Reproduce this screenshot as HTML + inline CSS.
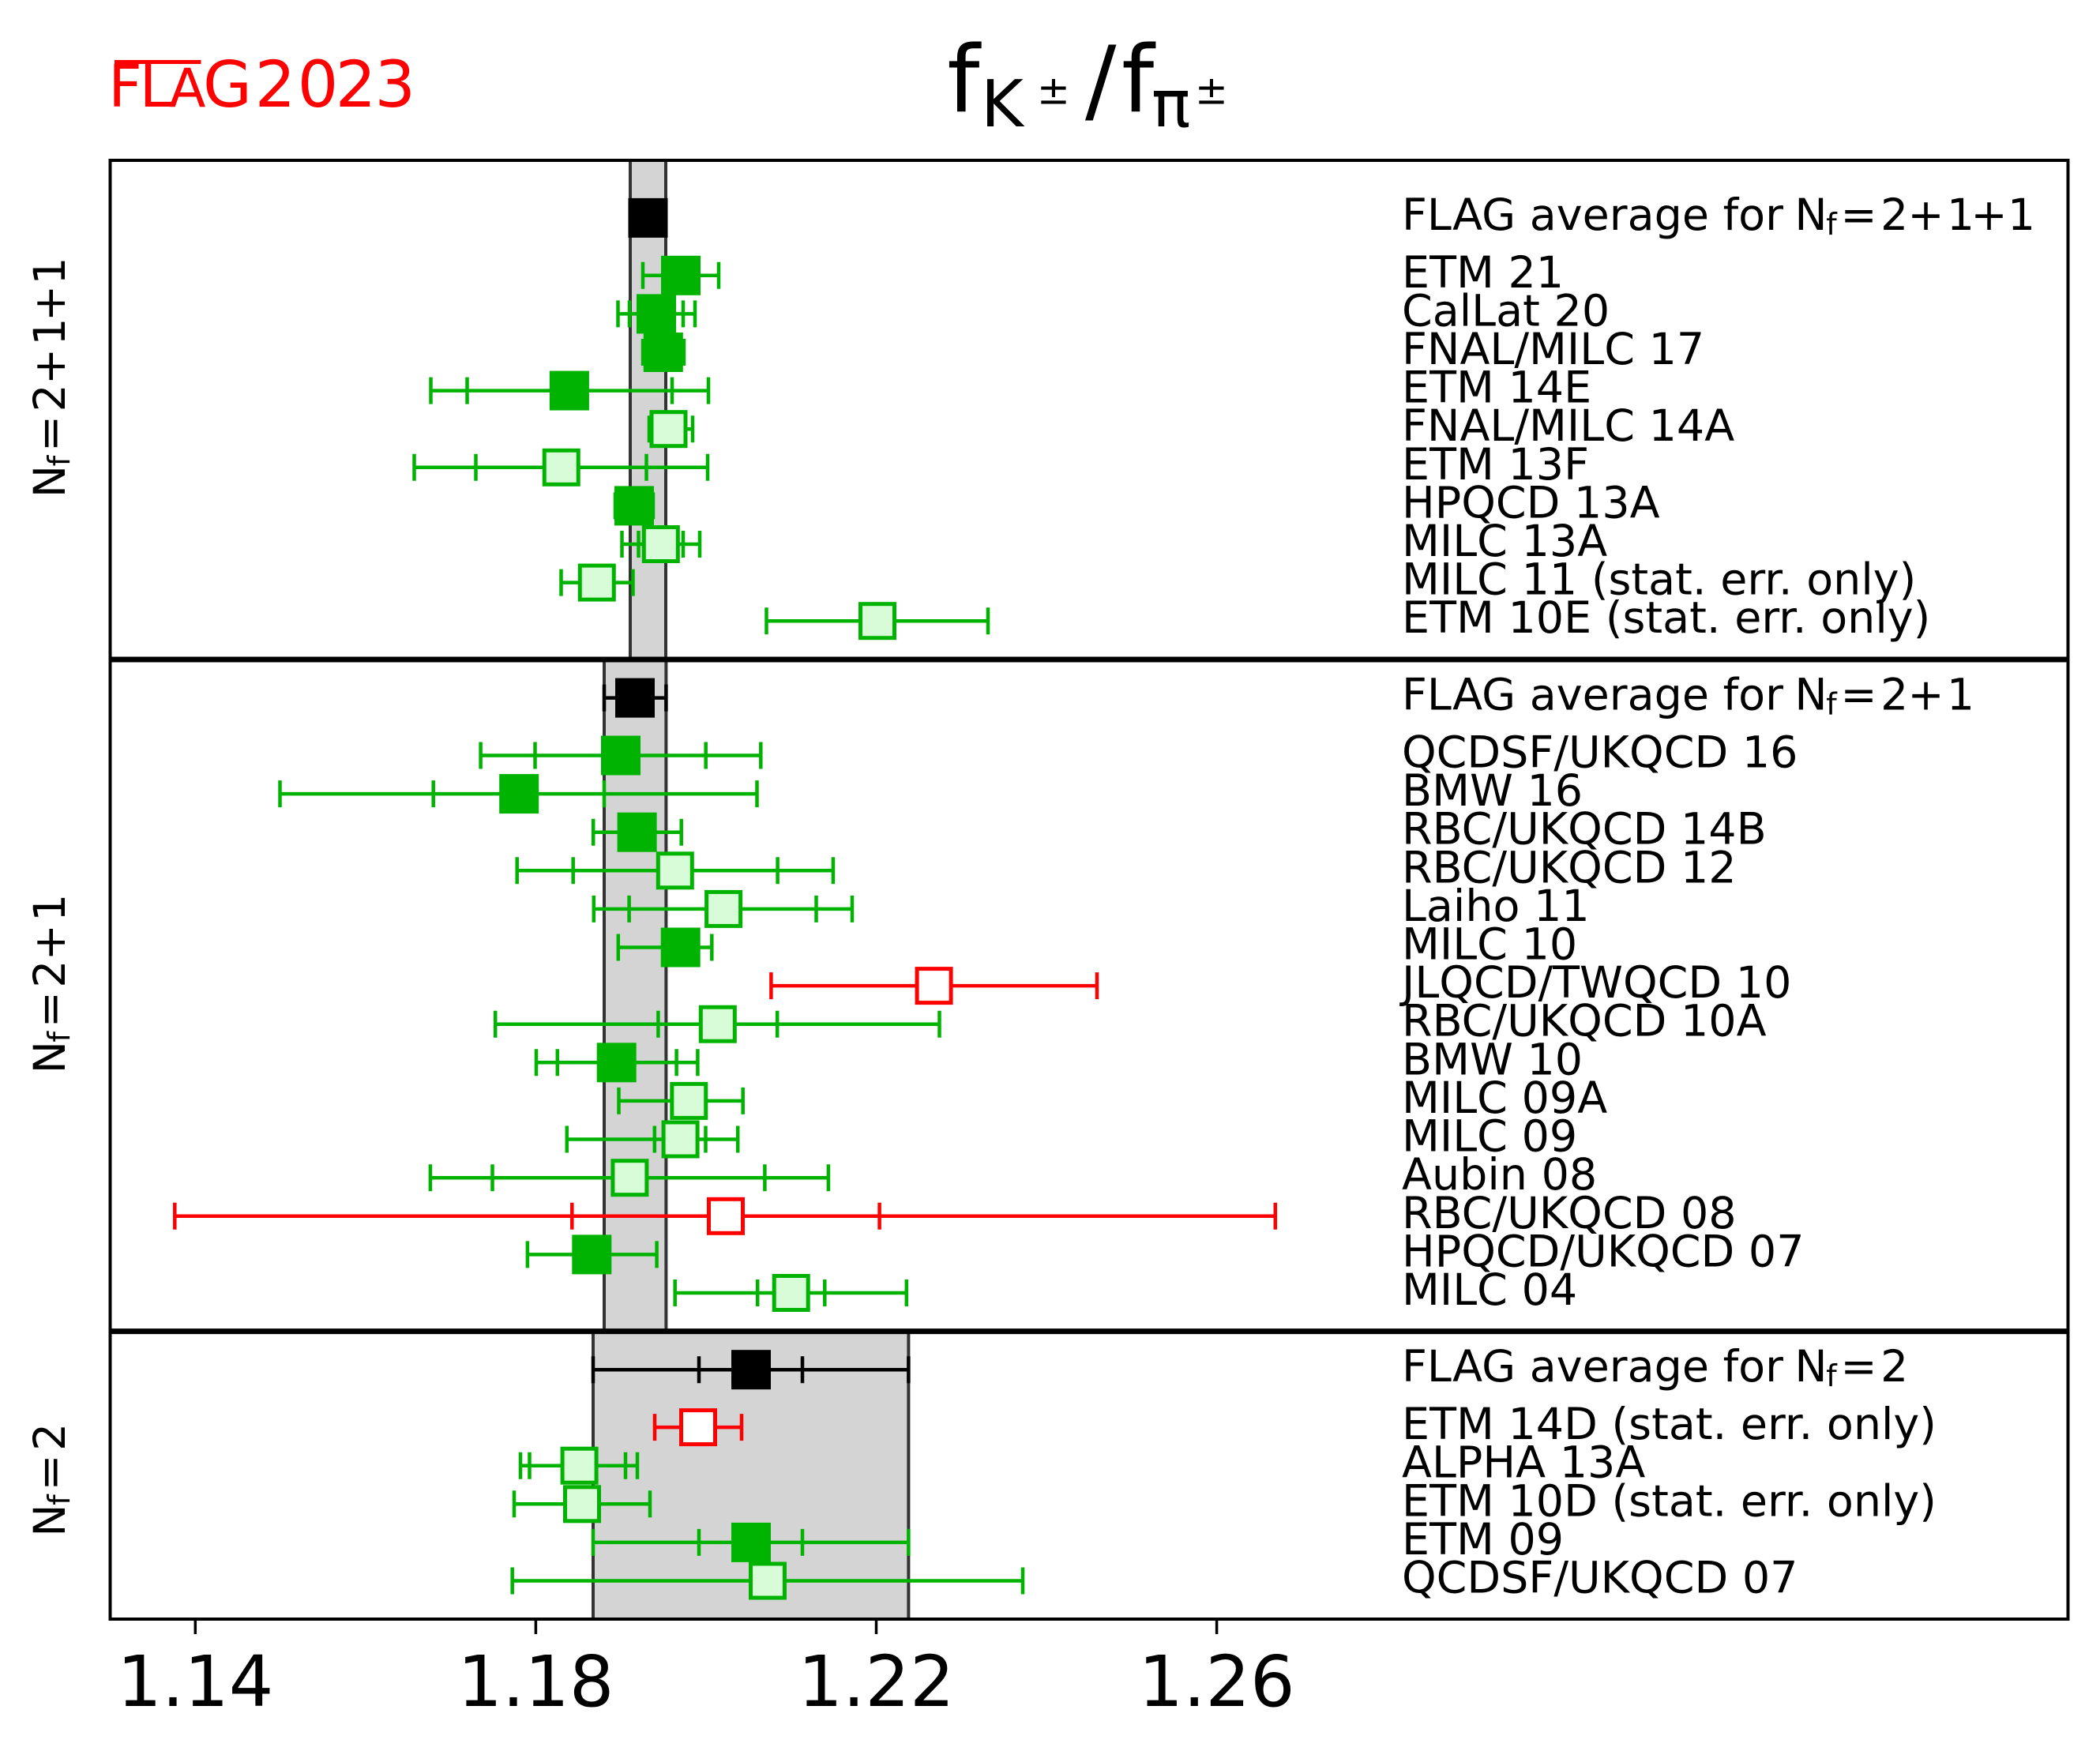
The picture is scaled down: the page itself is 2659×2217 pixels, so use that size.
<!DOCTYPE html>
<html>
<head>
<meta charset="utf-8">
<style>
html,body{margin:0;padding:0;background:#fff;}
svg{display:block;}
text{font-family:"DejaVu Sans","Liberation Sans",sans-serif;}
</style>
</head>
<body>
<svg width="2659" height="2217" viewBox="0 0 2659 2217" xmlns="http://www.w3.org/2000/svg">
<rect x="0" y="0" width="2659" height="2217" fill="#fff"/>

<!-- FLAG 2023 logo -->
<g fill="#ff0000">
  <rect x="145" y="76" width="109.5" height="5"/>
  <text x="137.3" y="135" font-size="74">F</text>
  <text x="176.6" y="135" font-size="74">L</text>
  <text x="214" y="135" font-size="68">A</text>
  <text x="257" y="135" font-size="80">G</text>
  <text x="322.7" y="135" font-size="81">2</text>
  <text x="376.8" y="135" font-size="81">0</text>
  <text x="424.8" y="135" font-size="81">2</text>
  <text x="474.5" y="135" font-size="81">3</text>
</g>

<!-- Title -->
<g fill="#000">
  <text x="1199.3" y="141.7" font-size="117">f</text>
  <text x="1242" y="160" font-size="82">K</text>
  <text x="1313" y="131.7" font-size="50">±</text>
  <text x="1374" y="141.7" font-size="117">/</text>
  <text x="1420" y="141.7" font-size="117">f</text>
  <text x="1458" y="160" font-size="82">π</text>
  <text x="1513" y="131.7" font-size="50">±</text>
</g>

<!-- Bands -->
<rect x="798" y="203" width="45" height="632" fill="#d4d4d4"/>
<rect x="765" y="835" width="78.4" height="850.6" fill="#d4d4d4"/>
<rect x="751" y="1685.6" width="399.4" height="364.4" fill="#d4d4d4"/>
<g stroke="#333" stroke-width="4">
  <line x1="798" y1="203" x2="798" y2="835"/>
  <line x1="843" y1="203" x2="843" y2="835"/>
  <line x1="765" y1="835" x2="765" y2="1685.6"/>
  <line x1="843.4" y1="835" x2="843.4" y2="1685.6"/>
  <line x1="751" y1="1685.6" x2="751" y2="2050"/>
  <line x1="1150.4" y1="1685.6" x2="1150.4" y2="2050"/>
</g>

<!-- ===== Nf=2+1+1 ===== -->
<rect x="795.5" y="250.9" width="50" height="50" fill="#000"/>

<g stroke="#00b300" stroke-width="4.5" fill="none">
  <path d="M814 348.8H910M814 331.8V365.8M910 331.8V365.8"/>
</g>
<rect x="837" y="323.8" width="50" height="50" fill="#00b300"/>

<g stroke="#00b300" stroke-width="4.5" fill="none">
  <path d="M782.5 397.4H880M782.5 380.4V414.4M797 380.4V414.4M865 380.4V414.4M880 380.4V414.4"/>
</g>
<rect x="806" y="372.4" width="50" height="50" fill="#00b300"/>

<g stroke="#00b300" stroke-width="4.5" fill="none">
  <path d="M814 446H866M814 429V463M866 429V463"/>
</g>
<rect x="814.8" y="421" width="50" height="50" fill="#00b300"/>

<g stroke="#00b300" stroke-width="4.5" fill="none">
  <path d="M545.5 494.6H897M545.5 477.6V511.6M591.5 477.6V511.6M851 477.6V511.6M897 477.6V511.6"/>
</g>
<rect x="695.9" y="469.6" width="50" height="50" fill="#00b300"/>

<g stroke="#00b300" stroke-width="4.5" fill="none">
  <path d="M822 543.2H877M822 526.2V560.2M877 526.2V560.2"/>
</g>
<rect x="825" y="521.7" width="43" height="43" fill="#d8fcd8" stroke="#00b300" stroke-width="5"/>

<g stroke="#00b300" stroke-width="4.5" fill="none">
  <path d="M524.5 591.8H896M524.5 574.8V608.8M602.5 574.8V608.8M818.5 574.8V608.8M896 574.8V608.8"/>
</g>
<rect x="689.25" y="570.3" width="43" height="43" fill="#d8fcd8" stroke="#00b300" stroke-width="5"/>

<g stroke="#00b300" stroke-width="4.5" fill="none">
  <path d="M779 640.4H827M779 623.4V657.4M827 623.4V657.4"/>
</g>
<rect x="778" y="615.4" width="50" height="50" fill="#00b300"/>

<g stroke="#00b300" stroke-width="4.5" fill="none">
  <path d="M787.5 689H886M787.5 672V706M808.5 672V706M865 672V706M886 672V706"/>
</g>
<rect x="815.3" y="667.5" width="43" height="43" fill="#d8fcd8" stroke="#00b300" stroke-width="5"/>

<g stroke="#00b300" stroke-width="4.5" fill="none">
  <path d="M710.5 737.6H801.5M710.5 720.6V754.6M801.5 720.6V754.6"/>
</g>
<rect x="734.25" y="716.1" width="43" height="43" fill="#d8fcd8" stroke="#00b300" stroke-width="5"/>

<g stroke="#00b300" stroke-width="4.5" fill="none">
  <path d="M970.5 786.2H1251M970.5 769.2V803.2M1251 769.2V803.2"/>
</g>
<rect x="1089.5" y="764.7" width="43" height="43" fill="#d8fcd8" stroke="#00b300" stroke-width="5"/>

<!-- ===== Nf=2+1 ===== -->
<g stroke="#000" stroke-width="4.5" fill="none">
  <path d="M765 883.6H843.4M765 866.6V900.6M843.4 866.6V900.6"/>
</g>
<rect x="779" y="858.6" width="50" height="50" fill="#000"/>

<g stroke="#00b300" stroke-width="4.5" fill="none">
  <path d="M608.6 956.5H963.3M608.6 939.5V973.5M677.5 939.5V973.5M893.7 939.5V973.5M963.3 939.5V973.5"/>
</g>
<rect x="761" y="931.5" width="50" height="50" fill="#00b300"/>

<g stroke="#00b300" stroke-width="4.5" fill="none">
  <path d="M354.5 1005.1H958.5M354.5 988.1V1022.1M548.7 988.1V1022.1M765 988.1V1022.1M958.5 988.1V1022.1"/>
</g>
<rect x="632.2" y="980.1" width="50" height="50" fill="#00b300"/>

<g stroke="#00b300" stroke-width="4.5" fill="none">
  <path d="M751.2 1053.7H862.7M751.2 1036.7V1070.7M862.7 1036.7V1070.7"/>
</g>
<rect x="781.6" y="1028.7" width="50" height="50" fill="#00b300"/>

<g stroke="#00b300" stroke-width="4.5" fill="none">
  <path d="M654.7 1102.3H1054.9M654.7 1085.3V1119.3M725.7 1085.3V1119.3M984.6 1085.3V1119.3M1054.9 1085.3V1119.3"/>
</g>
<rect x="833.3" y="1080.8" width="43" height="43" fill="#d8fcd8" stroke="#00b300" stroke-width="5"/>

<g stroke="#00b300" stroke-width="4.5" fill="none">
  <path d="M751.8 1150.9H1079M751.8 1133.9V1167.9M796.6 1133.9V1167.9M1033.5 1133.9V1167.9M1079 1133.9V1167.9"/>
</g>
<rect x="894.6" y="1129.4" width="43" height="43" fill="#d8fcd8" stroke="#00b300" stroke-width="5"/>

<g stroke="#00b300" stroke-width="4.5" fill="none">
  <path d="M782.8 1199.5H901.3M782.8 1182.5V1216.5M901.3 1182.5V1216.5"/>
</g>
<rect x="836.7" y="1174.5" width="50" height="50" fill="#00b300"/>

<g stroke="#ff0000" stroke-width="4.5" fill="none">
  <path d="M976.4 1248.1H1389M976.4 1231.1V1265.1M1389 1231.1V1265.1"/>
</g>
<rect x="1161.1" y="1226.6" width="43" height="43" fill="#fff" stroke="#ff0000" stroke-width="5"/>

<g stroke="#00b300" stroke-width="4.5" fill="none">
  <path d="M627.2 1296.7H1189.5M627.2 1279.7V1313.7M833.4 1279.7V1313.7M984.2 1279.7V1313.7M1189.5 1279.7V1313.7"/>
</g>
<rect x="887.3" y="1275.2" width="43" height="43" fill="#d8fcd8" stroke="#00b300" stroke-width="5"/>

<g stroke="#00b300" stroke-width="4.5" fill="none">
  <path d="M679 1345.3H883.4M679 1328.3V1362.3M705.8 1328.3V1362.3M856.6 1328.3V1362.3M883.4 1328.3V1362.3"/>
</g>
<rect x="755.7" y="1320.3" width="50" height="50" fill="#00b300"/>

<g stroke="#00b300" stroke-width="4.5" fill="none">
  <path d="M783.5 1393.9H940.7M783.5 1376.9V1410.9M940.7 1376.9V1410.9"/>
</g>
<rect x="850.8" y="1372.4" width="43" height="43" fill="#d8fcd8" stroke="#00b300" stroke-width="5"/>

<g stroke="#00b300" stroke-width="4.5" fill="none">
  <path d="M717.8 1442.5H934.2M717.8 1425.5V1459.5M828.8 1425.5V1459.5M893.5 1425.5V1459.5M934.2 1425.5V1459.5"/>
</g>
<rect x="840.1" y="1421" width="43" height="43" fill="#d8fcd8" stroke="#00b300" stroke-width="5"/>

<g stroke="#00b300" stroke-width="4.5" fill="none">
  <path d="M544.9 1491.2H1048.9M544.9 1474.2V1508.2M623.5 1474.2V1508.2M968.4 1474.2V1508.2M1048.9 1474.2V1508.2"/>
</g>
<rect x="775.9" y="1469.7" width="43" height="43" fill="#d8fcd8" stroke="#00b300" stroke-width="5"/>

<g stroke="#ff0000" stroke-width="4.5" fill="none">
  <path d="M221.3 1539.8H1614.8M221.3 1522.8V1556.8M724.3 1522.8V1556.8M1113.6 1522.8V1556.8M1614.8 1522.8V1556.8"/>
</g>
<rect x="897.5" y="1518.3" width="43" height="43" fill="#fff" stroke="#ff0000" stroke-width="5"/>

<g stroke="#00b300" stroke-width="4.5" fill="none">
  <path d="M667.9 1588.4H831.6M667.9 1571.4V1605.4M831.6 1571.4V1605.4"/>
</g>
<rect x="724.3" y="1563.4" width="50" height="50" fill="#00b300"/>

<g stroke="#00b300" stroke-width="4.5" fill="none">
  <path d="M854.7 1637H1147.8M854.7 1620V1654M959.2 1620V1654M1044.3 1620V1654M1147.8 1620V1654"/>
</g>
<rect x="980.2" y="1615.5" width="43" height="43" fill="#d8fcd8" stroke="#00b300" stroke-width="5"/>

<!-- ===== Nf=2 ===== -->
<g stroke="#000" stroke-width="4.5" fill="none">
  <path d="M751 1734.2H1150.4M751 1717.2V1751.2M885 1717.2V1751.2M1016 1717.2V1751.2M1150.4 1717.2V1751.2"/>
</g>
<rect x="926" y="1709.2" width="50" height="50" fill="#000"/>

<g stroke="#ff0000" stroke-width="4.5" fill="none">
  <path d="M829 1807.1H939M829 1790.1V1824.1M939 1790.1V1824.1"/>
</g>
<rect x="862.5" y="1785.6" width="43" height="43" fill="#fff" stroke="#ff0000" stroke-width="5"/>

<g stroke="#00b300" stroke-width="4.5" fill="none">
  <path d="M659 1855.7H807M659 1838.7V1872.7M670.5 1838.7V1872.7M792 1838.7V1872.7M807 1838.7V1872.7"/>
</g>
<rect x="712.1" y="1834.2" width="43" height="43" fill="#d8fcd8" stroke="#00b300" stroke-width="5"/>

<g stroke="#00b300" stroke-width="4.5" fill="none">
  <path d="M651 1904.3H823M651 1887.3V1921.3M823 1887.3V1921.3"/>
</g>
<rect x="715.5" y="1882.8" width="43" height="43" fill="#d8fcd8" stroke="#00b300" stroke-width="5"/>

<g stroke="#00b300" stroke-width="4.5" fill="none">
  <path d="M751 1952.9H1150.4M751 1935.9V1969.9M885 1935.9V1969.9M1016 1935.9V1969.9M1150.4 1935.9V1969.9"/>
</g>
<rect x="926" y="1927.9" width="50" height="50" fill="#00b300"/>

<g stroke="#00b300" stroke-width="4.5" fill="none">
  <path d="M648.7 2001.5H1295M648.7 1984.5V2018.5M1295 1984.5V2018.5"/>
</g>
<rect x="950.5" y="1980" width="43" height="43" fill="#d8fcd8" stroke="#00b300" stroke-width="5"/>

<!-- Spines & dividers -->
<rect x="139.5" y="203" width="2479" height="1847" fill="none" stroke="#000" stroke-width="4"/>
<line x1="139.5" y1="835" x2="2618.5" y2="835" stroke="#000" stroke-width="7"/>
<line x1="139.5" y1="1685.6" x2="2618.5" y2="1685.6" stroke="#000" stroke-width="7"/>

<!-- Ticks -->
<g stroke="#000" stroke-width="3.5">
  <line x1="247.3" y1="2050" x2="247.3" y2="2069"/>
  <line x1="678.4" y1="2050" x2="678.4" y2="2069"/>
  <line x1="1109.5" y1="2050" x2="1109.5" y2="2069"/>
  <line x1="1540.6" y1="2050" x2="1540.6" y2="2069"/>
</g>
<g font-size="89" text-anchor="middle" fill="#000">
  <text x="247.3" y="2160">1.14</text>
  <text x="678.4" y="2160">1.18</text>
  <text x="1109.5" y="2160">1.22</text>
  <text x="1540.6" y="2160">1.26</text>
</g>

<!-- Labels -->
<g font-size="55.5" fill="#000">
  <text x="1775" y="290.9">FLAG average for</text>
  <text x="1775" y="363.8">ETM 21</text>
  <text x="1775" y="412.4">CalLat 20</text>
  <text x="1775" y="461">FNAL/MILC 17</text>
  <text x="1775" y="509.6">ETM 14E</text>
  <text x="1775" y="558.2">FNAL/MILC 14A</text>
  <text x="1775" y="606.8">ETM 13F</text>
  <text x="1775" y="655.4">HPQCD 13A</text>
  <text x="1775" y="704">MILC 13A</text>
  <text x="1775" y="752.6">MILC 11 (stat. err. only)</text>
  <text x="1775" y="801.2">ETM 10E (stat. err. only)</text>

  <text x="1775" y="898.6">FLAG average for</text>
  <text x="1775" y="971.5">QCDSF/UKQCD 16</text>
  <text x="1775" y="1020.1">BMW 16</text>
  <text x="1775" y="1068.7">RBC/UKQCD 14B</text>
  <text x="1775" y="1117.3">RBC/UKQCD 12</text>
  <text x="1775" y="1165.9">Laiho 11</text>
  <text x="1775" y="1214.5">MILC 10</text>
  <text x="1775" y="1263.1">JLQCD/TWQCD 10</text>
  <text x="1775" y="1311.7">RBC/UKQCD 10A</text>
  <text x="1775" y="1360.3">BMW 10</text>
  <text x="1775" y="1408.9">MILC 09A</text>
  <text x="1775" y="1457.5">MILC 09</text>
  <text x="1775" y="1506.2">Aubin 08</text>
  <text x="1775" y="1554.8">RBC/UKQCD 08</text>
  <text x="1775" y="1603.4">HPQCD/UKQCD 07</text>
  <text x="1775" y="1652">MILC 04</text>

  <text x="1775" y="1749.2">FLAG average for</text>
  <text x="1775" y="1822.1">ETM 14D (stat. err. only)</text>
  <text x="1775" y="1870.7">ALPHA 13A</text>
  <text x="1775" y="1919.3">ETM 10D (stat. err. only)</text>
  <text x="1775" y="1967.9">ETM 09</text>
  <text x="1775" y="2016.5">QCDSF/UKQCD 07</text>
</g>

<!-- Math parts of FLAG average labels -->
<g fill="#000" font-size="55">
  <g transform="translate(2277.8,290.9)">
    <text x="-5.4" y="0">N</text>
    <text x="34.3" y="6" font-size="38.5">f</text>
    <text x="52.7" y="0">=</text>
    <text x="103.3" y="0">2</text>
    <text x="137.7" y="0">+</text>
    <text x="187.2" y="0">1</text>
    <text x="217.7" y="0">+</text>
    <text x="264.2" y="0">1</text>
  </g>
  <g transform="translate(2277.8,898.6)">
    <text x="-5.4" y="0">N</text>
    <text x="34.3" y="6" font-size="38.5">f</text>
    <text x="52.7" y="0">=</text>
    <text x="103.3" y="0">2</text>
    <text x="137.7" y="0">+</text>
    <text x="187.2" y="0">1</text>
  </g>
  <g transform="translate(2277.8,1749.2)">
    <text x="-5.4" y="0">N</text>
    <text x="34.3" y="6" font-size="38.5">f</text>
    <text x="52.7" y="0">=</text>
    <text x="103.3" y="0">2</text>
  </g>

  <!-- Rotated panel labels -->
  <g transform="translate(82,624.7) rotate(-90)">
    <text x="-5.4" y="0">N</text>
    <text x="34.3" y="6" font-size="38.5">f</text>
    <text x="52.7" y="0">=</text>
    <text x="103.3" y="0">2</text>
    <text x="137.7" y="0">+</text>
    <text x="187.2" y="0">1</text>
    <text x="217.7" y="0">+</text>
    <text x="264.2" y="0">1</text>
  </g>
  <g transform="translate(82,1353.9) rotate(-90)">
    <text x="-5.4" y="0">N</text>
    <text x="34.3" y="6" font-size="38.5">f</text>
    <text x="52.7" y="0">=</text>
    <text x="103.3" y="0">2</text>
    <text x="137.7" y="0">+</text>
    <text x="187.2" y="0">1</text>
  </g>
  <g transform="translate(82,1940.2) rotate(-90)">
    <text x="-5.4" y="0">N</text>
    <text x="34.3" y="6" font-size="38.5">f</text>
    <text x="52.7" y="0">=</text>
    <text x="103.3" y="0">2</text>
  </g>
</g>
</svg>
</body>
</html>
